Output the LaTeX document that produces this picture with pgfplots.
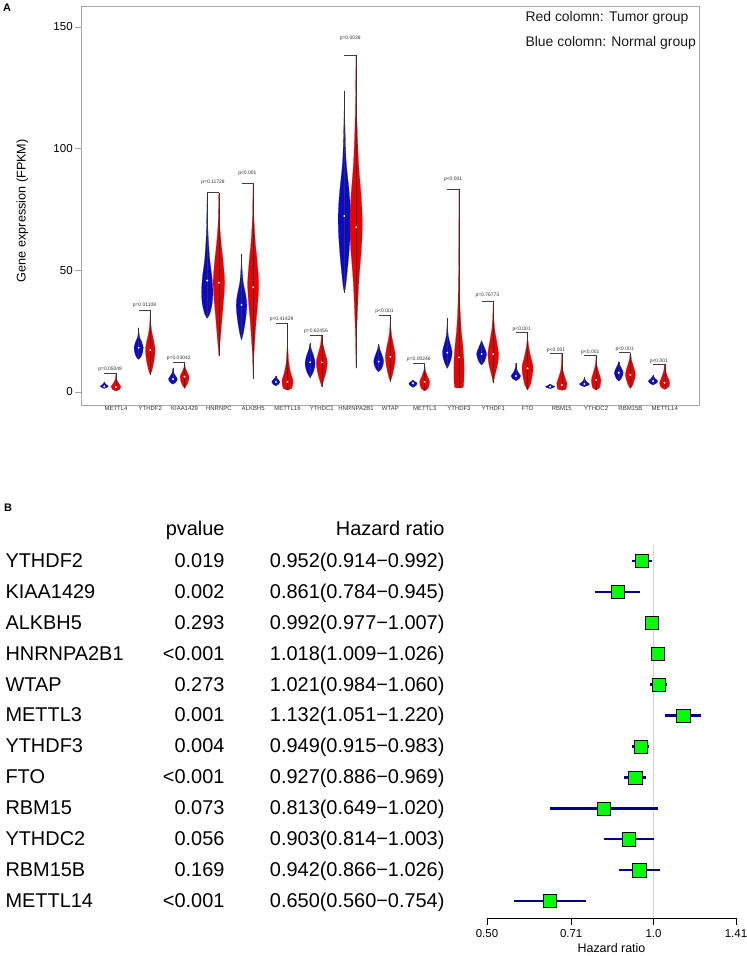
\documentclass[border=0pt]{standalone}
\usepackage{pgfplots}
\pgfplotsset{compat=1.18}
\usepackage{fontspec}
\setmainfont{Liberation Sans}
\definecolor{vblue}{RGB}{10,10,200}
\definecolor{vred}{RGB}{235,0,0}
\definecolor{ciblue}{RGB}{0,0,139}
\definecolor{boxgreen}{RGB}{0,255,0}
\tikzset{pvtext/.style={font=\fontsize{5}{5}\selectfont, text=black!80, inner sep=0pt}}
% violin: #1 centre, #2 colour, #3 bottom, #4 top, #5 median, #6 profile y/halfwidth
\newcommand\violin[6]{%
  \gdef\vioR{}\gdef\vioL{}%
  \foreach \yy/\ww in {#6}{%
    \pgfmathsetmacro\vioxr{#1+\ww}%
    \pgfmathsetmacro\vioxl{#1-\ww}%
    \xdef\vioR{\vioR(\vioxr,\yy) }%
    \xdef\vioL{(\vioxl,\yy) \vioL}%
  }%
  \edef\viotemp{\noexpand\addplot[fill=#2, draw=#2, line width=0.2bp, smooth, tension=0.5] coordinates {(#1,#3) \vioR(#1,#4) \vioL(#1,#3)};}%
  \viotemp
  \addplot[black!80, line width=0.4bp] coordinates {(#1,#3) (#1,#4)};
  \addplot[only marks, mark=*, mark size=0.75bp, white] coordinates {(#1,#5)};
}
% p-value bracket: #1 category, #2 line y, #3 text y, #4 label
\newcommand\pv[4]{%
  \pgfmathsetmacro\pva{#1-0.34}%
  \pgfmathsetmacro\pvmid{#1-0.17}%
  \edef\pvtemp{\noexpand\addplot[black!75, line width=0.3bp] coordinates {(\pva,#2) (#1,#2)};}%
  \pvtemp
  \edef\pvtemp{\noexpand\node[pvtext] at (axis cs:\pvmid,#3) {#4};}%
  \pvtemp
}
\begin{document}
\begin{tikzpicture}
\path[use as bounding box] (0bp,0bp) rectangle (747bp,956bp);
\node[font=\bfseries\fontsize{11}{11}\selectfont] at (7bp,948.7bp) {A};
\node[font=\bfseries\fontsize{11}{11}\selectfont] at (8bp,448bp) {B};

\begin{axis}[
  at={(81.7bp,551bp)}, anchor=south west, scale only axis,
  width=617.3bp, height=399bp,
  xmin=-1, xmax=17, ymin=-5.34, ymax=158.6,
  axis line style={gray!70, line width=0.6bp},
  ytick={0,50,100,150}, ytick pos=left, tick align=outside, major tick length=6.5bp,
  ytick style={gray!70, line width=0.6bp},
  xtick={0,...,16},
  xticklabels={METTL4,YTHDF2,KIAA1429,HNRNPC,ALKBH5,METTL16,YTHDC1,HNRNPA2B1,WTAP,METTL3,YTHDF3,YTHDF1,FTO,RBM15,YTHDC2,RBM15B,METTL14},
  xtick style={draw=none}, xtick pos=bottom,
  yticklabel style={font=\fontsize{11.6}{12}\selectfont, inner sep=0pt, xshift=-2.3bp},
  xticklabel style={font=\fontsize{6}{6}\selectfont, inner sep=0pt, text=black!80, yshift=5bp},
  ylabel={Gene expression (FPKM)},
  ylabel style={font=\fontsize{12.7}{13}\selectfont, at={(axis description cs:-0.096,0.487)}, anchor=center},
  /pgf/number format/assume math mode=true,
  clip=false,
]
% blue (normal) violins
\violin{-0.34}{vblue}{1.5}{4.2}{2.3}{1.9/0.08, 2.4/0.12, 3.0/0.06, 3.6/0.02}
\violin{0.66}{vblue}{13.4}{26.4}{18.2}{14.5/0.07, 16.5/0.12, 18.2/0.135, 20.5/0.09, 22.5/0.03, 24.5/0.012}
\violin{1.66}{vblue}{3.2}{9.7}{5.3}{4.0/0.08, 5.3/0.13, 6.5/0.08, 8/0.02}
\violin{2.66}{vblue}{30.3}{81.9}{45.8}{32/0.07, 36/0.14, 41/0.165, 47/0.14, 55/0.07, 65/0.025, 74/0.01}
\violin{3.66}{vblue}{21.4}{56.6}{35.8}{24/0.05, 30/0.12, 35.8/0.155, 40/0.12, 45/0.05, 51/0.015}
\violin{4.66}{vblue}{2.6}{6.6}{4.1}{3.2/0.08, 4.1/0.12, 5.0/0.08, 5.8/0.02}
\violin{5.66}{vblue}{5.9}{20}{12.2}{7.5/0.07, 10/0.13, 12.2/0.145, 15/0.1, 17.5/0.035}
\violin{6.66}{vblue}{40.8}{123.7}{72.3}{44/0.04, 55/0.12, 65/0.17, 73/0.18, 82/0.14, 95/0.05, 110/0.015}
\violin{7.66}{vblue}{8.4}{19.7}{12.5}{9.5/0.08, 12.5/0.145, 15/0.1, 17.5/0.035}
\violin{8.66}{vblue}{1.9}{4.9}{3.6}{2.6/0.08, 3.6/0.12, 4.3/0.05}
\violin{9.66}{vblue}{9.7}{30.3}{16.2}{11.5/0.06, 14/0.12, 16.6/0.14, 19.5/0.09, 23/0.03, 27/0.008}
\violin{10.66}{vblue}{11.1}{21.1}{15.6}{12.5/0.08, 15.6/0.145, 18/0.09, 20/0.03}
\violin{11.66}{vblue}{4.7}{12}{6.6}{5.5/0.1, 6.6/0.14, 8/0.07, 10/0.015}
\violin{12.66}{vblue}{1.4}{3.3}{2.2}{1.8/0.09, 2.2/0.137, 2.7/0.06}
\violin{13.66}{vblue}{2.2}{6.0}{3.3}{2.7/0.1, 3.3/0.146, 4.2/0.06, 5.2/0.015}
\violin{14.66}{vblue}{4.5}{12.5}{7.9}{5.5/0.07, 7.9/0.13, 10/0.07, 11.5/0.02}
\violin{15.66}{vblue}{2.9}{7.0}{4.5}{3.6/0.09, 4.5/0.137, 5.5/0.06, 6.4/0.015}
% red (tumor) violins
\violin{0}{vred}{0.5}{7.7}{2.0}{1.0/0.10, 2.2/0.14, 3.5/0.08, 4.8/0.03, 6.0/0.01}
\violin{1}{vred}{7.0}{33.6}{17.3}{9/0.05, 13/0.11, 17.3/0.14, 21/0.1, 25/0.04, 29/0.012}
\violin{2}{vred}{1.5}{12}{6.3}{3/0.07, 5/0.12, 6.3/0.13, 8/0.08, 10/0.02}
\violin{3}{vred}{14.9}{81.6}{44.9}{20/0.03, 30/0.09, 40/0.15, 46/0.165, 54/0.12, 62/0.06, 70/0.02}
\violin{4}{vred}{5.3}{85.9}{43}{15/0.02, 28/0.08, 38/0.14, 45/0.16, 53/0.12, 62/0.06, 72/0.02}
\violin{5}{vred}{0.8}{28.2}{4.2}{1.5/0.12, 4.5/0.16, 8/0.09, 12/0.04, 17/0.015, 22/0.006}
\violin{6}{vred}{2.2}{23.4}{12.2}{4.5/0.05, 8/0.12, 12.2/0.16, 16/0.1, 19.5/0.035}
\violin{7}{vred}{9.7}{138.5}{67.7}{25/0.02, 45/0.08, 60/0.16, 70/0.18, 80/0.15, 95/0.07, 115/0.02}
\violin{8}{vred}{4.2}{31.6}{14.5}{7/0.06, 11/0.12, 14.5/0.145, 18/0.11, 23/0.04, 27/0.012}
\violin{9}{vred}{0.5}{11.8}{4.2}{1.5/0.1, 4.2/0.145, 6.5/0.08, 9/0.02}
\violin{10}{vred}{1.8}{83.3}{14.2}{1.9/0.12, 6/0.145, 11.8/0.146, 18/0.12, 25/0.07, 35/0.03, 50/0.01, 65/0.004}
\violin{11}{vred}{3.6}{37.5}{15.6}{7/0.05, 11/0.12, 15.6/0.155, 20/0.11, 26/0.04, 32/0.012}
\violin{12}{vred}{0.8}{24.4}{9.7}{3/0.08, 7/0.14, 10.4/0.16, 14/0.1, 18/0.04, 21.5/0.01}
\violin{13}{vred}{0.8}{15.9}{2.9}{1.2/0.12, 3.6/0.146, 6/0.09, 9/0.03, 12.5/0.008}
\violin{14}{vred}{0.8}{15.2}{4.9}{1.8/0.1, 4.9/0.137, 7.5/0.09, 10.5/0.03, 13/0.008}
\violin{15}{vred}{1.5}{16.2}{7.0}{3/0.07, 7/0.146, 10/0.1, 13/0.035}
\violin{16}{vred}{1.1}{11.5}{3.8}{2/0.11, 3.8/0.146, 6/0.09, 8.5/0.03}
% p-values
\pv{0}{7.8}{9.4}{p=0.05049}
\pv{1}{33.6}{35.5}{p=0.01108}
\pv{2}{12.2}{13.8}{p=0.03042}
\pv{3}{82}{86}{p=0.11728}
\pv{4}{86}{90}{p<0.001}
\pv{5}{28.2}{30}{p=0.41429}
\pv{6}{23.4}{25}{p=0.62456}
\pv{7}{138.5}{145.5}{p=0.0038}
\pv{8}{31.6}{33.3}{p<0.001}
\pv{9}{11.8}{13.3}{p=0.00246}
\pv{10}{83.3}{87.5}{p<0.001}
\pv{11}{37.5}{39.6}{p=0.76773}
\pv{12}{24.4}{25.8}{p<0.001}
\pv{13}{15.9}{17.2}{p<0.001}
\pv{14}{15.2}{16.5}{p<0.001}
\pv{15}{16.2}{17.6}{p<0.001}
\pv{16}{11.5}{12.8}{p<0.001}
\node[anchor=west, font=\fontsize{14}{14}\selectfont, text=black!90] at (axis cs:11.84,153.7) {Red colomn: Tumor group};
\node[anchor=west, font=\fontsize{14}{14}\selectfont, text=black!90] at (axis cs:11.84,143.4) {Blue colomn: Normal group};
\end{axis}

% panel B table
\node[anchor=base east, font=\fontsize{20}{20}\selectfont] at (228bp,420bp) {pvalue};
\node[anchor=base east, font=\fontsize{20}{20}\selectfont] at (448bp,420bp) {Hazard ratio};
\foreach \g/\p/\h [count=\k] in {
  YTHDF2/0.019/0.952(0.914−0.992),
  KIAA1429/0.002/0.861(0.784−0.945),
  ALKBH5/0.293/0.992(0.977−1.007),
  HNRNPA2B1/<0.001/1.018(1.009−1.026),
  WTAP/0.273/1.021(0.984−1.060),
  METTL3/0.001/1.132(1.051−1.220),
  YTHDF3/0.004/0.949(0.915−0.983),
  FTO/<0.001/0.927(0.886−0.969),
  RBM15/0.073/0.813(0.649−1.020),
  YTHDC2/0.056/0.903(0.814−1.003),
  RBM15B/0.169/0.942(0.866−1.026),
  METTL14/<0.001/0.650(0.560−0.754)}{
  \pgfmathsetmacro\yb{388.5-(\k-1)*30.9}
  \node[anchor=base west, font=\fontsize{20}{20}\selectfont] at (2bp,\yb bp) {\g};
  \node[anchor=base east, font=\fontsize{20}{20}\selectfont] at (228bp,\yb bp) {\p};
  \node[anchor=base east, font=\fontsize{20}{20}\selectfont] at (448bp,\yb bp) {\h};
}

\begin{axis}[
  at={(487bp,38bp)}, anchor=south west, scale only axis,
  width=249bp, height=373bp,
  xmode=log, xmin=0.5, xmax=1.41, ymin=0.45, ymax=12.521,
  axis x line*=bottom, hide y axis,
  xtick={0.5,0.71,1,1.41}, xticklabels={0.50,0.71,1.0,1.41},
  xminorticks=false,
  tick align=outside, major tick length=7bp,
  xtick style={black, line width=0.8bp},
  axis line style={black, line width=0.8bp},
  xticklabel style={font=\fontsize{11.5}{11.5}\selectfont, yshift=-1bp},
  xlabel={Hazard ratio},
  xlabel style={font=\fontsize{12.5}{13}\selectfont, yshift=1bp},
  clip=false,
]
\addplot[gray!35, line width=1.6bp] coordinates {(1,0.45) (1,12.521)};
\addplot[ciblue, line width=2.4bp] coordinates {(0.914,12) (0.992,12)};
\addplot[ciblue, line width=2.4bp] coordinates {(0.784,11) (0.945,11)};
\addplot[ciblue, line width=2.4bp] coordinates {(0.977,10) (1.007,10)};
\addplot[ciblue, line width=2.4bp] coordinates {(1.009,9) (1.026,9)};
\addplot[ciblue, line width=2.4bp] coordinates {(0.984,8) (1.060,8)};
\addplot[ciblue, line width=2.4bp] coordinates {(1.051,7) (1.220,7)};
\addplot[ciblue, line width=2.4bp] coordinates {(0.915,6) (0.983,6)};
\addplot[ciblue, line width=2.4bp] coordinates {(0.886,5) (0.969,5)};
\addplot[ciblue, line width=2.4bp] coordinates {(0.649,4) (1.020,4)};
\addplot[ciblue, line width=2.4bp] coordinates {(0.814,3) (1.003,3)};
\addplot[ciblue, line width=2.4bp] coordinates {(0.866,2) (1.026,2)};
\addplot[ciblue, line width=2.4bp] coordinates {(0.560,1) (0.754,1)};
\addplot[only marks, mark=square*, mark size=6.6bp, mark options={fill=boxgreen, draw=none}] coordinates {
  (0.952,12) (0.861,11) (0.992,10) (1.018,9) (1.021,8) (1.132,7)
  (0.949,6) (0.927,5) (0.813,4) (0.903,3) (0.942,2) (0.650,1)};
\end{axis}
\end{tikzpicture}
\end{document}
